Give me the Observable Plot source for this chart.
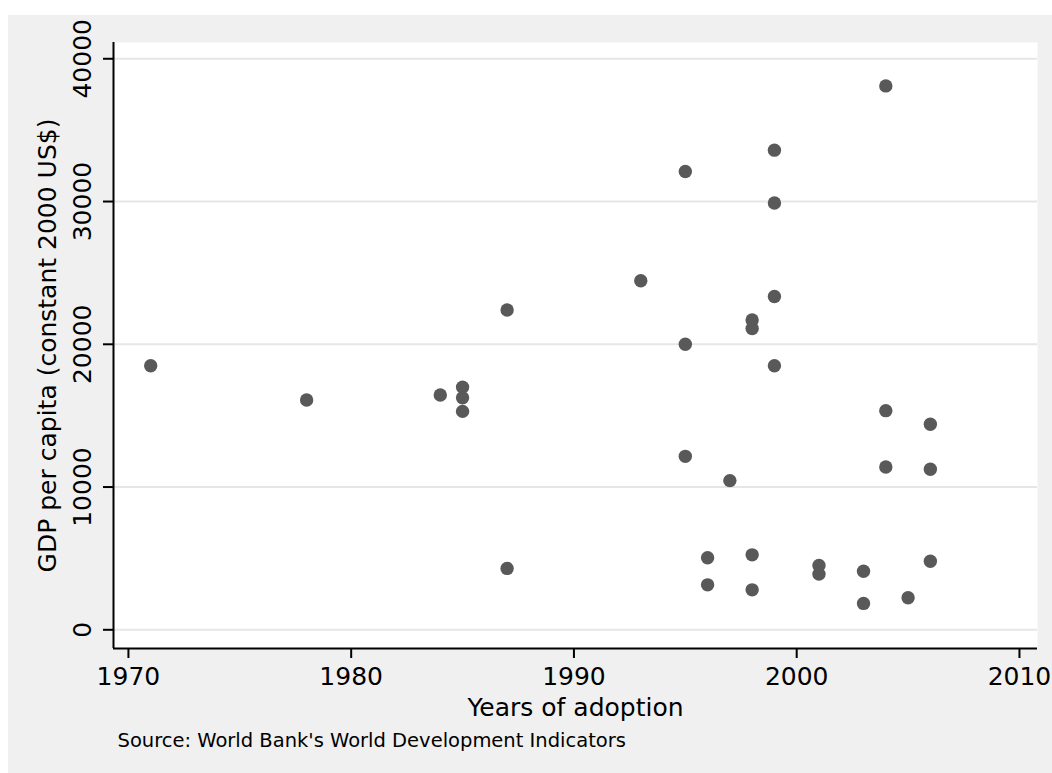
<!DOCTYPE html>
<html><head><meta charset="utf-8">
<script src="https://cdn.jsdelivr.net/npm/d3@7"></script>
<script src="https://cdn.jsdelivr.net/npm/@observablehq/plot@0.6"></script>
<style>
body{margin:0;background:#fff;}
#bg{position:absolute;left:8px;top:15px;width:1044px;height:758px;background:#f0f0f0;}
</style></head><body><div id="bg"></div>
<script>
const years = [1971,1978,1984,1985,1985,1985,1987,1987,1993,1995,1995,1995,1996,1996,1997,1998,1998,1998,1998,1999,1999,1999,1999,2001,2001,2003,2003,2004,2004,2004,2005,2006,2006,2006];
const gdp   = [18500,16100,16450,17000,16250,15300,22400,4300,24450,32100,20000,12150,5050,3150,10450,21700,21100,5250,2800,33600,29900,23350,18500,4500,3900,4100,1850,38100,15350,11400,2250,14400,11250,4800];
const xTicks = [1970,1980,1990,2000,2010];
const yTicks = [0,10000,20000,30000,40000];
const xLabel = "Years of adoption";
const yLabel = "GDP per capita (constant 2000 US$)";
const source = "Source: World Bank's World Development Indicators";

const data = years.map((year, i) => ({year, gdp: gdp[i]}));
const xDomain = [1969.33, 2010.81];
const yDomain = [-1310, 41140];
const font = "DejaVu Sans";

const chart = Plot.plot({
  width: 1044, height: 758,
  marginLeft: 105, marginRight: 15, marginTop: 27, marginBottom: 125,
  style: {background: "transparent", fontFamily: font, color: "black", overflow: "visible"},
  x: {domain: xDomain},
  y: {domain: yDomain},
  marks: [
    Plot.frame({fill: "white"}),
    Plot.gridY(yTicks, {stroke: "#e6e6e6", strokeOpacity: 1, strokeWidth: 2}),
    Plot.axisX(xTicks, {tickSize: 10, tickPadding: 9, fontSize: 25, tickFormat: d => String(d), strokeWidth: 2, label: null}),
    Plot.axisY(yTicks, {tickSize: 10, tickPadding: 13, tickRotate: -90, fontSize: 25, tickFormat: d => String(d), strokeWidth: 2, label: null}),
    Plot.ruleY([yDomain[0]], {stroke: "black", strokeWidth: 2}),
    Plot.ruleX([xDomain[0]], {stroke: "black", strokeWidth: 2}),
    Plot.dot(data, {x: "year", y: "gdp", r: 6.7, fill: "#595959"}),
    Plot.text([xLabel], {text: d => d, frameAnchor: "bottom", lineAnchor: "top", textAnchor: "middle", dy: 50, fontSize: 25, fill: "black"}),
    Plot.text([yLabel], {text: d => d, frameAnchor: "left", lineAnchor: "middle", textAnchor: "middle", rotate: -90, dx: -66, fontSize: 25, fill: "black"}),
    Plot.text([source], {text: d => d, frameAnchor: "bottom-left", lineAnchor: "top", textAnchor: "start", dx: 4, dy: 85, fontSize: 19.5, fill: "black"})
  ]
});
document.getElementById("bg").appendChild(chart);
</script>
</body></html>
